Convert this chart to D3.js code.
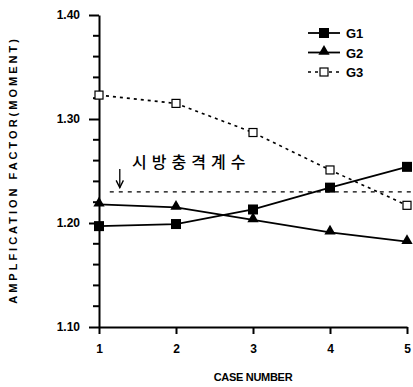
<!DOCTYPE html>
<html>
<head>
<meta charset="utf-8">
<script src="https://cdn.jsdelivr.net/npm/d3@7"></script>
<style>
  body { margin: 0; background: #fff; }
  text { font-family: "Liberation Sans", Arial, sans-serif; font-weight: bold; fill: #000; }
</style>
</head>
<body>
<div id="chart"></div>
<script>
// data
const cases = [1, 2, 3, 4, 5];
const g1 = [1.197, 1.199, 1.213, 1.234, 1.254];
const g2 = [1.218, 1.215, 1.203, 1.191, 1.182];
const g3 = [1.323, 1.315, 1.287, 1.251, 1.217];
const seriesNames = ["G1", "G2", "G3"];
const majorTicks = [1.10, 1.20, 1.30, 1.40];
const minorTicks = [1.12, 1.14, 1.16, 1.18, 1.22, 1.24, 1.26, 1.28, 1.32, 1.34, 1.36, 1.38];
// design impact factor (시방충격계수) reference line
const refValue = 1.23;
const refFrom = 1.14, refTo = 5.08;
const refLabel = "시방충격계수";

const width = 413, height = 387;
const margin = { top: 15, right: 6, bottom: 60, left: 99 };

const svg = d3.select("#chart").append("svg")
  .attr("width", width)
  .attr("height", height);

const x = d3.scaleLinear().domain([1, 5]).range([margin.left, width - margin.right]);
const y = d3.scaleLinear().domain([1.10, 1.40]).range([height - margin.bottom, margin.top]);

// y axis with major ticks and labels
svg.append("g")
  .attr("transform", "translate(" + margin.left + ",0)")
  .call(d3.axisLeft(y).tickValues(majorTicks).tickSize(10).tickPadding(9).tickSizeOuter(0).tickFormat(d3.format(".2f")))
  .call(g => g.selectAll("line, path").attr("stroke", "#000").attr("stroke-width", 2))
  .call(g => g.selectAll("text").style("font-size", "12px").style("font-family", "Liberation Sans").style("font-weight", "bold"));

// minor ticks
svg.append("g")
  .selectAll("line")
  .data(minorTicks)
  .join("line")
  .attr("x1", margin.left - 6)
  .attr("x2", margin.left)
  .attr("y1", d => y(d))
  .attr("y2", d => y(d))
  .attr("stroke", "#000")
  .attr("stroke-width", 2);

// x axis
svg.append("g")
  .attr("transform", "translate(0," + y(1.10) + ")")
  .call(d3.axisBottom(x).tickValues(cases).tickSize(7).tickPadding(10).tickSizeOuter(0).tickFormat(d3.format("d")))
  .call(g => g.selectAll("line, path").attr("stroke", "#000").attr("stroke-width", 2))
  .call(g => g.selectAll("text").style("font-size", "12px").style("font-family", "Liberation Sans").style("font-weight", "bold"));

// axis titles
svg.append("text")
  .attr("x", (x(1) + x(5)) / 2)
  .attr("y", 381)
  .attr("text-anchor", "middle")
  .style("font-size", "11px")
  .style("letter-spacing", "-0.3px")
  .text("CASE NUMBER");

svg.append("text")
  .attr("transform", "translate(17," + 170 + ") rotate(-90)")
  .attr("text-anchor", "middle")
  .style("font-size", "11px")
  .style("letter-spacing", "3px")
  .text("AMPLFICATION FACTOR(MOMENT)");

// reference line + label
svg.append("line")
  .attr("x1", x(refFrom)).attr("x2", x(refTo))
  .attr("y1", y(refValue)).attr("y2", y(refValue))
  .attr("stroke", "#000").attr("stroke-width", 1.3)
  .attr("stroke-dasharray", "4,5");

svg.append("defs").append("marker")
  .attr("id", "arrow").attr("viewBox", "0 0 10 10")
  .attr("refX", 9).attr("refY", 5)
  .attr("markerWidth", 7).attr("markerHeight", 7)
  .attr("orient", "auto")
  .append("path").attr("d", "M1,1 L9,5 L1,9").attr("fill", "none").attr("stroke", "#000").attr("stroke-width", 1.5);

svg.append("line")
  .attr("x1", x(1.27)).attr("x2", x(1.27))
  .attr("y1", y(1.252)).attr("y2", y(1.234))
  .attr("stroke", "#000").attr("stroke-width", 1.3)
  .attr("marker-end", "url(#arrow)");

svg.append("text")
  .attr("x", x(1.43))
  .attr("y", y(1.253))
  .style("font-family", "'Noto Sans CJK KR'")
  .style("font-weight", "500")
  .style("font-size", "16px")
  .style("letter-spacing", "5px")
  .text(refLabel);

// series
const series = [
  { name: seriesNames[0], values: g1, dash: null, marker: "square" },
  { name: seriesNames[1], values: g2, dash: null, marker: "triangle" },
  { name: seriesNames[2], values: g3, dash: "3,4", marker: "open" }
];

const line = d3.line().x((d, i) => x(cases[i])).y(d => y(d));

function drawMarker(g, type, cx, cy) {
  if (type === "square") {
    g.append("rect").attr("x", cx - 5).attr("y", cy - 5).attr("width", 10).attr("height", 10).attr("fill", "#000");
  } else if (type === "triangle") {
    g.append("path").attr("d", d3.symbol(d3.symbolTriangle, 55)()).attr("transform", "translate(" + cx + "," + (cy - 1) + ")").attr("fill", "#000");
  } else {
    g.append("rect").attr("x", cx - 4).attr("y", cy - 4).attr("width", 8).attr("height", 8)
      .attr("fill", "#fff").attr("stroke", "#000").attr("stroke-width", 1.2);
  }
}

series.forEach(s => {
  const g = svg.append("g");
  g.append("path")
    .attr("d", line(s.values))
    .attr("fill", "none")
    .attr("stroke", "#000")
    .attr("stroke-width", s.dash ? 1.6 : 1.8)
    .attr("stroke-dasharray", s.dash);
  s.values.forEach((v, i) => drawMarker(g, s.marker, x(cases[i]), y(v)));
});

// legend
const legend = svg.append("g");
series.forEach((s, i) => {
  const ly = 33 + i * 19.5;
  legend.append("line")
    .attr("x1", 308).attr("x2", 340)
    .attr("y1", ly).attr("y2", ly)
    .attr("stroke", "#000").attr("stroke-width", s.dash ? 1.4 : 1.8)
    .attr("stroke-dasharray", s.dash ? "3,4" : null);
  drawMarker(legend, s.marker, 324, ly);
  legend.append("text")
    .attr("x", 346).attr("y", ly + 5)
    .style("font-size", "13px")
    .text(s.name);
});
</script>
</body>
</html>
